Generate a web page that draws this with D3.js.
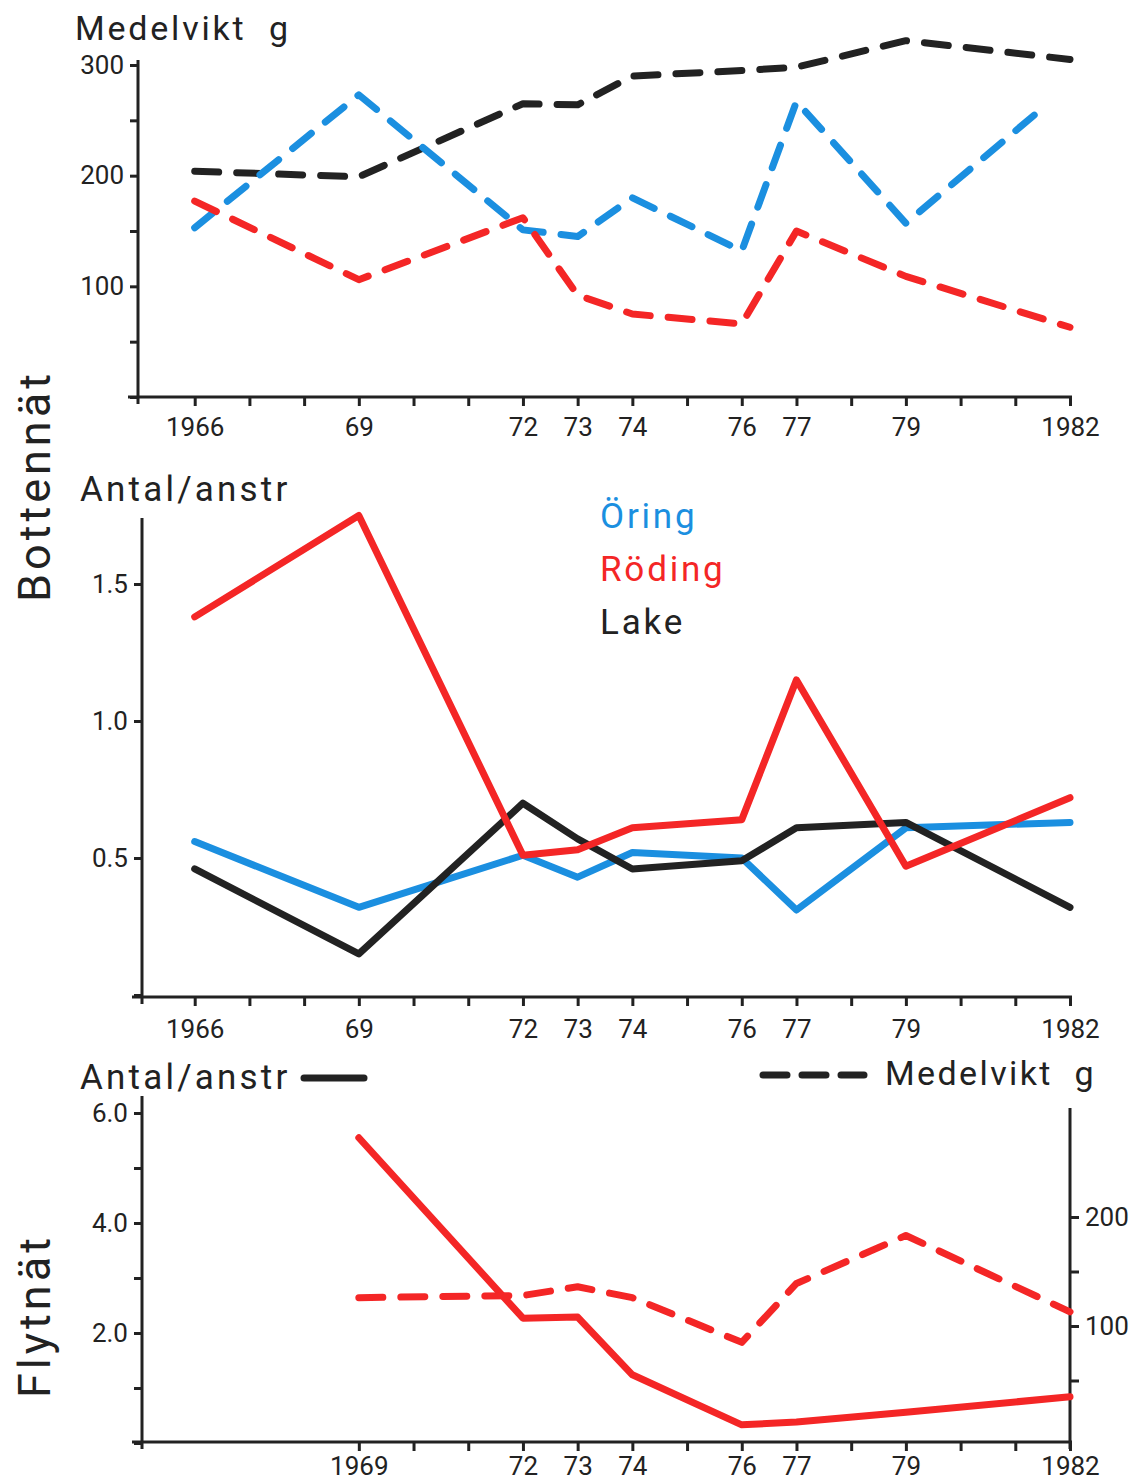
<!DOCTYPE html>
<html><head><meta charset="utf-8">
<script src="https://cdn.jsdelivr.net/npm/d3@7"></script>
<style>
body{margin:0;background:#fff;}
svg{display:block;font-family:Roboto,"DejaVu Sans",sans-serif;}
</style></head>
<body>
<svg id="c" width="1146" height="1484"></svg>
<script>
// ---------- DATA ----------
const years = [1966,1969,1972,1973,1974,1976,1977,1979,1982];
const oringTopYears = [1966,1969,1972,1973,1974,1976,1977,1979,1981.4];
const xTickLabels = {1966:"1966",1969:"69",1972:"72",1973:"73",1974:"74",1976:"76",1977:"77",1979:"79",1982:"1982"};
const xTickLabelsBottom = {1969:"1969",1972:"72",1973:"73",1974:"74",1976:"76",1977:"77",1979:"79",1982:"1982"};

// Bottennät – Medelvikt g (dashed)
const topLake   = [204,199,265,264,290,295,298,322,305];
const topOring  = [153,273,151,145,180,132,267,157,257];
const topRoding = [177,106,162,92,75,66,150,109,63];

// Bottennät – Antal/anstr (solid)
const midOring  = [0.56,0.32,0.51,0.43,0.52,0.50,0.31,0.61,0.63];
const midRoding = [1.38,1.75,0.51,0.53,0.61,0.64,1.15,0.47,0.72];
const midLake   = [0.46,0.15,0.70,0.57,0.46,0.49,0.61,0.63,0.32];

// Flytnät – Röding
const botYears = [1969,1972,1973,1974,1976,1977,1979,1982];
const botAntal = [5.55,2.27,2.29,1.24,0.33,0.38,0.56,0.84];
const botVikt  = [126,128,136,126,85,139,183,113];

const legendNames = ["Öring","Röding","Lake"];

// ---------- STYLE ----------
const BLUE="#1b8fe0", RED="#f42626", BLACK="#222";
const svg = d3.select("#c");
const x = d3.scaleLinear().domain([1965,1982]).range([140,1070]);
const allYears = d3.range(1966,1983);

function styleAxis(g){
  g.selectAll("path.domain").attr("stroke",BLACK).attr("stroke-width",3);
  g.selectAll(".tick line").attr("stroke",BLACK).attr("stroke-width",3);
  g.selectAll(".tick text").attr("fill",BLACK).style("font-size","26px").style("font-family","Roboto");
}

function xAxis(yPos, ticks, labels, x0, pad){
  const ax = d3.axisBottom(x).tickValues(ticks).tickSize(9).tickPadding(pad)
     .tickFormat(d=>labels[d]||"").tickSizeOuter(0);
  const g = svg.append("g").attr("transform",`translate(0,${yPos})`).call(ax);
  g.select("path.domain").remove();
  g.append("line").attr("x1",x0-10).attr("x2",1072).attr("y1",0).attr("y2",0)
    .attr("stroke",BLACK).attr("stroke-width",3);
  styleAxis(g);
}

function yAxisLeft(scale, xPos, ticks, fmt, top, bottom){
  const ax = d3.axisLeft(scale).tickValues(ticks).tickSize(8).tickPadding(6).tickFormat(fmt).tickSizeOuter(0);
  const g = svg.append("g").attr("transform",`translate(${xPos},0)`).call(ax);
  g.select("path.domain").remove();
  g.append("line").attr("x1",0).attr("x2",0).attr("y1",top).attr("y2",bottom)
    .attr("stroke",BLACK).attr("stroke-width",3);
  styleAxis(g);
}

function drawLine(xs, vals, scale, color, dashed, w){
  const data = xs.map((d,i)=>[d,vals[i]]);
  const line = d3.line().x(d=>x(d[0])).y(d=>scale(d[1]));
  const p = svg.append("path").datum(data).attr("d",line).attr("fill","none")
    .attr("stroke",color).attr("stroke-width",w)
    .attr("stroke-linejoin","round").attr("stroke-linecap","round");
  if(dashed) p.attr("stroke-dasharray","24 18");
}

function label(txt, xPos, yPos, size, color, opts={}){
  const t = svg.append("text").attr("x",xPos).attr("y",yPos).text(txt)
    .attr("fill",color).style("font-size",size+"px").style("letter-spacing",(opts.ls||0)+"px")
    .style("white-space","pre");
  if(opts.anchor) t.attr("text-anchor",opts.anchor);
  if(opts.rotate) t.attr("transform",`rotate(-90,${xPos},${yPos})`);
  return t;
}

// ---------- TOP PANEL ----------
const yTop = d3.scaleLinear().domain([0,300]).range([397,65]);
yAxisLeft(yTop,138,[0,50,100,150,200,250,300],d=>(d%100===0&&d>0)?d:"",60,404);
xAxis(397, allYears, xTickLabels, 138, 12);
drawLine(years, topLake, yTop, BLACK, true, 7);
drawLine(oringTopYears, topOring, yTop, BLUE, true, 7);
drawLine(years, topRoding, yTop, RED, true, 7);
label("Medelvikt  g",75,40,34,BLACK,{ls:2.8});

// ---------- MIDDLE PANEL ----------
const yMid = d3.scaleLinear().domain([0,1.5]).range([995,584]);
yAxisLeft(yMid,142,[0,0.5,1.0,1.5],d=>d>0?d3.format(".1f")(d):"",518,1004);
xAxis(997, allYears, xTickLabels, 142, 14);
drawLine(years, midOring, yMid, BLUE, false, 7);
drawLine(years, midLake, yMid, BLACK, false, 7);
drawLine(years, midRoding, yMid, RED, false, 7);
label("Antal/anstr",80,501,35,BLACK,{ls:3.2});
const legColors=[BLUE,RED,BLACK];
legendNames.forEach((n,i)=>label(n,600,528+i*53,35,legColors[i],{ls:2.8}));

// ---------- BOTTOM PANEL ----------
const yBotL = d3.scaleLinear().domain([0,6]).range([1443,1113]);
const yBotR = d3.scaleLinear().domain([0,200]).range([1435,1217]);
yAxisLeft(yBotL,142,[0,1,2,3,4,5,6],d=>(d%2===0&&d>0)?d3.format(".1f")(d):"",1096,1449);
{
  const ax = d3.axisRight(yBotR).tickValues([50,100,150,200]).tickSize(9).tickPadding(6)
    .tickFormat(d=>d%100===0?d:"").tickSizeOuter(0);
  const g = svg.append("g").attr("transform","translate(1070,0)").call(ax);
  g.select("path.domain").remove();
  g.append("line").attr("x1",0).attr("x2",0).attr("y1",1108).attr("y2",1449)
    .attr("stroke",BLACK).attr("stroke-width",3);
  styleAxis(g);
}
xAxis(1442, d3.range(1969,1983), xTickLabelsBottom, 142, 6);
drawLine(botYears, botAntal, yBotL, RED, false, 7);
drawLine(botYears, botVikt, yBotR, RED, true, 7);
label("Antal/anstr",80,1089,35,BLACK,{ls:3.2});
svg.append("line").attr("x1",304).attr("x2",364).attr("y1",1078).attr("y2",1078)
  .attr("stroke",BLACK).attr("stroke-width",7).attr("stroke-linecap","round");
svg.append("line").attr("x1",763).attr("x2",864).attr("y1",1075).attr("y2",1075)
  .attr("stroke",BLACK).attr("stroke-width",7).attr("stroke-linecap","round").attr("stroke-dasharray","24 15");
label("Medelvikt  g",885,1085,34,BLACK,{ls:2.4});

// ---------- SIDE TITLES ----------
label("Bottennät",50,602,45,BLACK,{ls:4,rotate:true});
label("Flytnät",50,1398,45,BLACK,{ls:4,rotate:true});
</script>
</body></html>
